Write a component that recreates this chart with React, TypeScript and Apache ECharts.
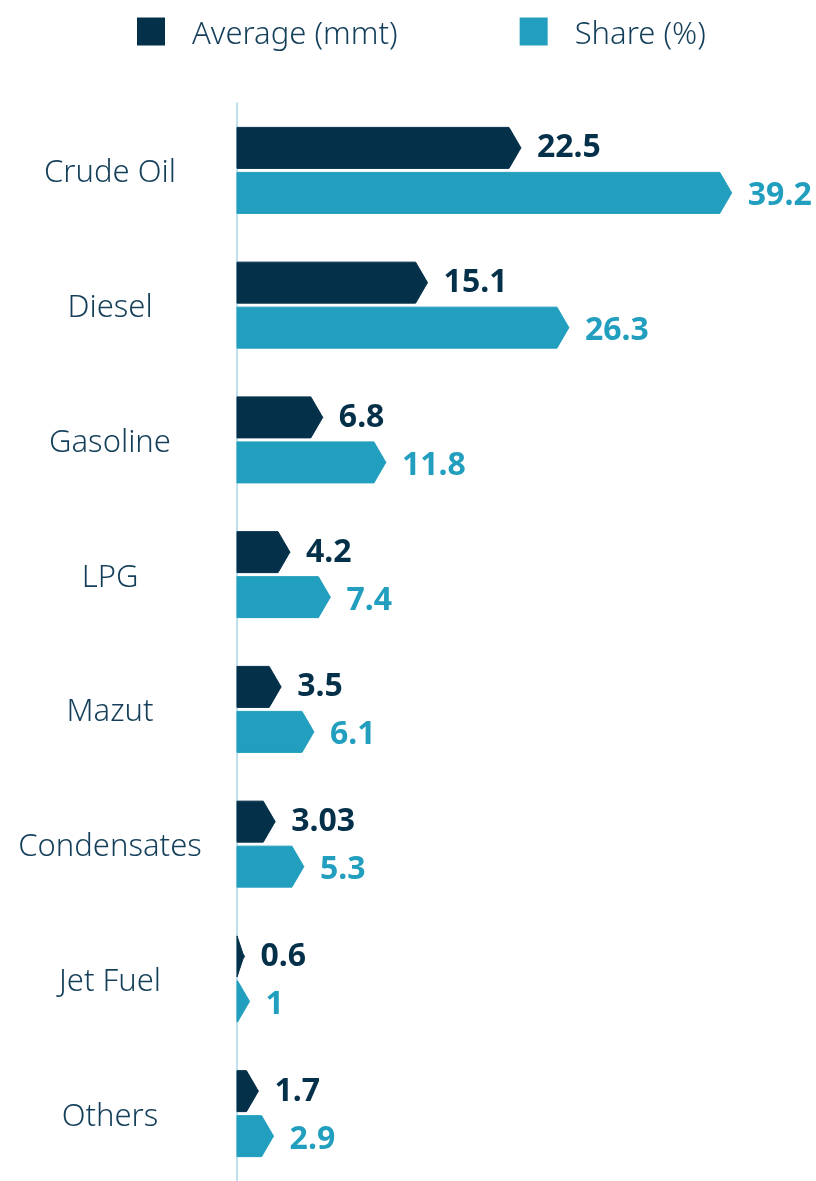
import React, { useEffect, useRef } from "react";
import * as echarts from "echarts";

const categories = ["Crude Oil", "Diesel", "Gasoline", "LPG", "Mazut", "Condensates", "Jet Fuel", "Others"];
const averageMmt = [22.5, 15.1, 6.8, 4.2, 3.5, 3.03, 0.6, 1.7];
const sharePct = [39.2, 26.3, 11.8, 7.4, 6.1, 5.3, 1, 2.9];
const seriesNames = ["Average (mmt)", "Share (%)"];

const DARK = "#05304a";
const TEAL = "#229fbe";
const TEXT = "#143f5a";

function makeRender(which: number, color: string) {
  return (params: any, api: any) => {
    const v = api.value(0);
    const c = api.value(1);
    const p0 = api.coord([0, c]);
    const p1 = api.coord([v, c]);
    const mid = p0[1];
    const top = which === 0 ? mid - 43 : mid + 2;
    const bot = which === 0 ? mid - 2 : mid + 43;
    const cy = (top + bot) / 2;
    const x0 = p0[0];
    const xt = p1[0];
    const len = xt - x0;
    const a = Math.min(12, len);
    const pts = [
      [x0, top],
      [xt - a, top],
      [xt - 1.6, cy - 2.6],
      [xt, cy],
      [xt - 1.6, cy + 2.6],
      [xt - a, bot],
      [x0, bot],
    ];
    return {
      type: "group",
      children: [
        {
          type: "polygon",
          shape: { points: pts },
          style: { fill: color, stroke: color, lineWidth: 1, lineJoin: "round" },
        },
        {
          type: "text",
          style: {
            text: String(v),
            x: xt + 16,
            y: cy + (which === 0 ? -3 : 0),
            fill: color,
            font: "bold 32px 'Noto Sans'",
            align: "left",
            verticalAlign: "middle",
          },
        },
      ],
    };
  };
}

export default function App() {
  const ref = useRef<HTMLDivElement>(null);
  useEffect(() => {
    document.body.style.margin = "0";
    document.body.style.overflow = "hidden";
    const chart = echarts.init(ref.current!, null, { renderer: "svg" });
    chart.setOption({
      animation: false,
      legend: {
        left: 137,
        top: 16,
        padding: 0,
        itemWidth: 28,
        itemHeight: 28,
        itemGap: 122,
        icon: "rect",
        data: seriesNames,
        textStyle: {
          fontFamily: "'Noto Sans'",
          fontWeight: 300,
          fontSize: 31,
          color: TEXT,
          padding: [0, 0, 0, 22],
        },
      },
      grid: { left: 237, right: 11, top: 103, height: 1088 },
      xAxis: { type: "value", min: 0, max: 45, show: false },
      yAxis: {
        type: "category",
        inverse: true,
        data: categories,
        axisTick: { show: false },
        axisLine: { show: true, lineStyle: { color: "#a9d5e6", width: 1.5 } },
        axisLabel: {
          align: "center",
          margin: 127,
          fontFamily: "'Noto Sans'",
          fontWeight: 300,
          fontSize: 31,
          color: TEXT,
        },
        splitLine: { show: false },
      },
      series: [
        {
          name: seriesNames[0],
          type: "custom",
          itemStyle: { color: DARK },
          encode: { x: 0, y: 1 },
          data: averageMmt.map((v, i) => [v, i]),
          renderItem: makeRender(0, DARK),
        },
        {
          name: seriesNames[1],
          type: "custom",
          itemStyle: { color: TEAL },
          encode: { x: 0, y: 1 },
          data: sharePct.map((v, i) => [v, i]),
          renderItem: makeRender(1, TEAL),
        },
      ],
    });
    return () => chart.dispose();
  }, []);
  return <div ref={ref} style={{ position: "fixed", left: 0, top: 0, width: 816, height: 1181 }} />;
}
